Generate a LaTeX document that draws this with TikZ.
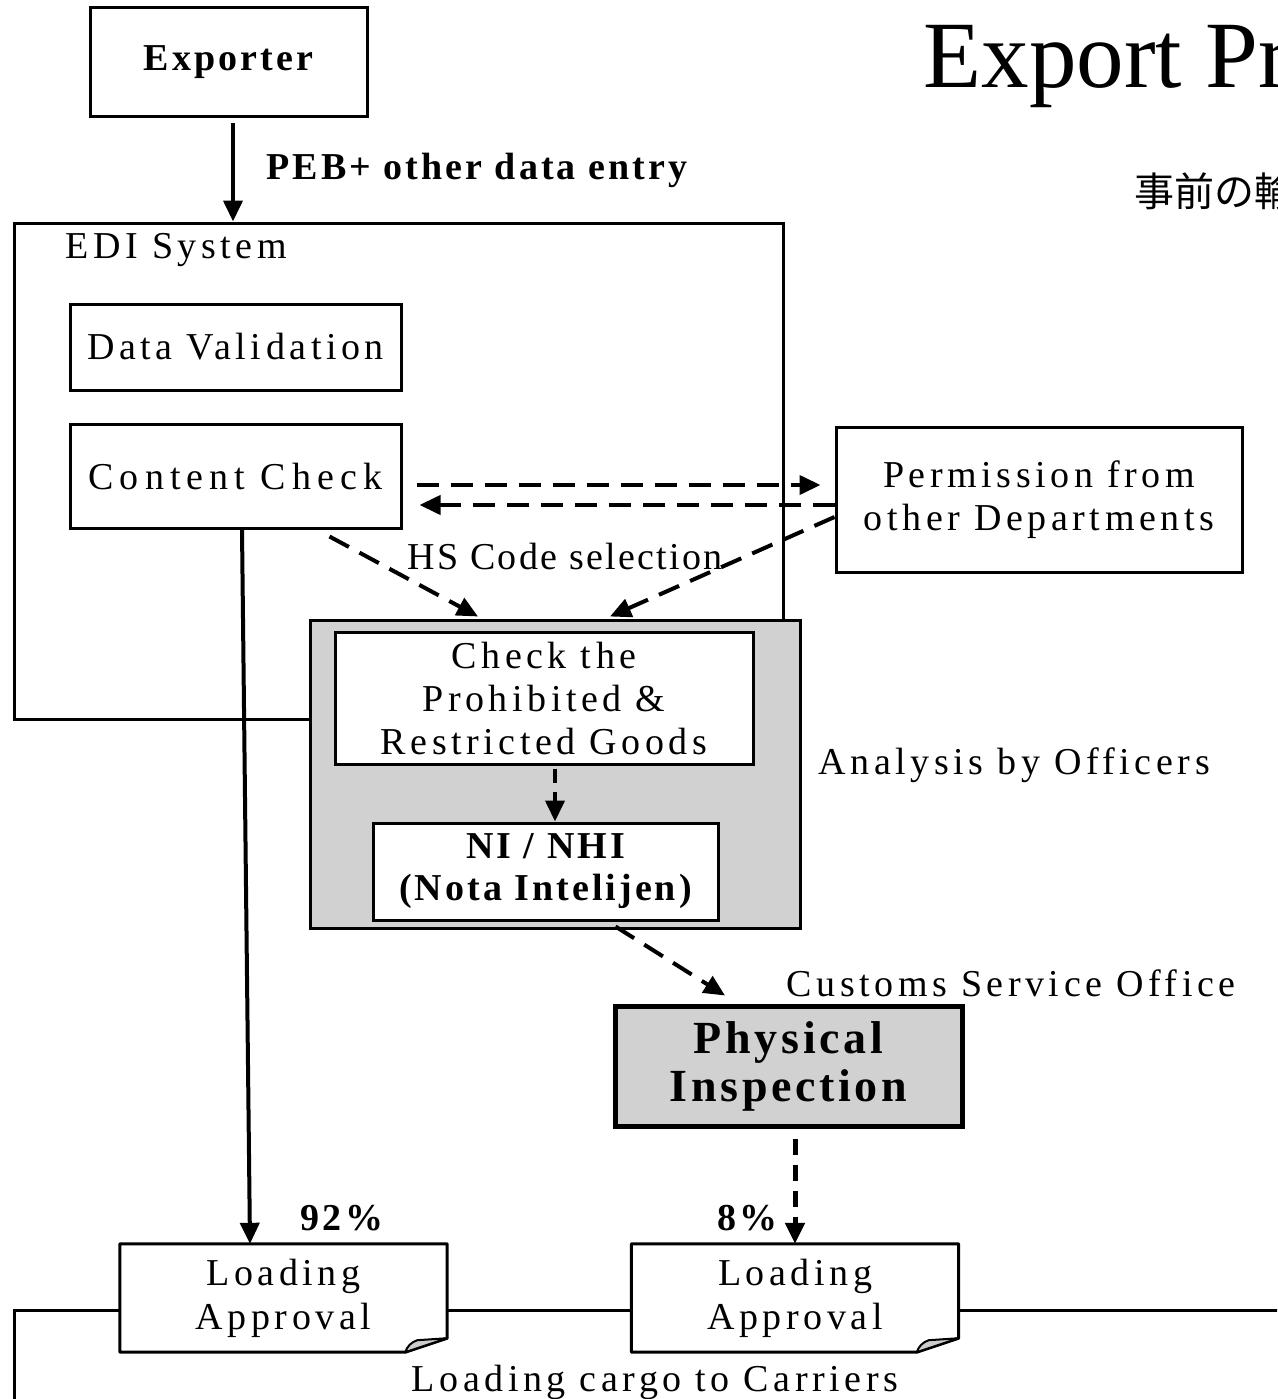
\documentclass[tikz,border=0pt]{standalone}
\usepackage{fontspec}
\setmainfont{Liberation Serif}
\newfontfamily\wide[LetterSpace=12]{Liberation Serif}
\newfontfamily\widecc[LetterSpace=16]{Liberation Serif}
\newfontfamily\widebf[LetterSpace=8]{Liberation Serif}
\newfontfamily\widehs[LetterSpace=6]{Liberation Serif}
\newfontfamily\jpfont{Noto Sans CJK JP}
\usetikzlibrary{arrows.meta}

\begin{document}
\begin{tikzpicture}[
    x=1pt, y=-1pt,
    every node/.append style={font=\wide\fontsize{38}{43}\selectfont},
    box/.style={rectangle, draw=black, line width=3pt, fill=white, inner sep=0pt, align=center},
    shaded/.style={box, fill=black!18},
    note/.style={rectangle, fill=white, inner sep=0pt, align=center, minimum width=327pt, minimum height=108pt,
                 font=\wide\fontsize{38}{44}\selectfont},
    boldtext/.style={font=\widebf\bfseries\fontsize{38}{42}\selectfont},
    flow/.style={line width=4pt, -{Triangle[length=21pt,width=19pt]}},
    dashflow/.style={flow, dash pattern=on 22pt off 12pt}
]
    \clip (0,0) rectangle (1277,1399);

    % Titel
    \node[anchor=base west, font=\rmfamily\fontsize{95}{100}\selectfont] (title) at (920,88) {Export Process};
    \node[anchor=west, font=\jpfont\fontsize{40}{44}\selectfont] (subtitle) at (1131,191) {事前の輸出};

    % Exporter
    \node[box, boldtext, minimum width=277pt, minimum height=109pt] (exp) at (228.5,62.5) {\raisebox{-5pt}{Exporter}};

    % EDI System
    \node[box, minimum width=769pt, minimum height=496pt] (edi) at (398.5,471) {};
    \node[anchor=west] (editxt) at (62,250) {EDI System};
    \node[box, minimum width=331pt, minimum height=86pt] (dv) at (235.5,347) {Data Validation};
    \node[box, minimum width=331pt, minimum height=104pt, font=\widecc\fontsize{38}{43}\selectfont] (cc) at (235.5,476) {Content Check};
    \node[box, minimum width=406pt, minimum height=145pt] (perm) at (1039,499.5) {Permission from\\other Departments};

    % Analysis by Officers
    \node[shaded, minimum width=490pt, minimum height=308pt] (ana) at (555,774) {};
    \node[box, minimum width=418pt, minimum height=132pt] (chk) at (544,698) {Check the\\Prohibited \&\\Restricted Goods};
    \node[box, boldtext, minimum width=345pt, minimum height=97pt] (ni) at (545.5,871.5) {NI / NHI\\(Nota Intelijen)};
    \node[anchor=west] (anatxt) at (815,765) {Analysis by Officers};

    % Customs Service Office
    \node[anchor=west] (csotxt) at (783,983) {Customs Service Office};
    \node[shaded, line width=5pt, minimum width=347pt, minimum height=120pt,
          font=\widebf\bfseries\fontsize{46}{48}\selectfont] (phys) at (788.5,1066) {Physical\\Inspection};

    % Loading cargo to Carriers
    \draw[line width=3pt] (14,1430) -- (14,1310) -- (1300,1310);
    \node (cargo) at (655,1382) {Loading cargo to Carriers};
    \node[note] (la1) at (283.5,1298) {Loading\\Approval};
    \node[note] (la2) at (795,1298) {Loading\\Approval};
    \foreach \n in {la1,la2} {
        \draw[line width=3pt, line join=round] (\n.north west) -- (\n.north east) -- ([yshift=14pt]\n.south east)
            -- ([xshift=-42pt]\n.south east) -- (\n.south west) -- cycle;
        \filldraw[line width=2pt, fill=black!20, line join=round] ([xshift=-42pt]\n.south east)
            to[bend left=25] ([xshift=-30pt,yshift=12pt]\n.south east) -- ([yshift=14pt]\n.south east) -- cycle;
    }

    % Pfeile
    \draw[flow] ([xshift=4.5pt,yshift=-5pt]exp.south) -- ([xshift=4.5pt]exp.south |- edi.north);
    \node[anchor=west, boldtext] (peb) at (263,170) {PEB+ other data entry};
    \draw[dashflow] ([xshift=14pt,yshift=-9pt]cc.east) -- ([xshift=-14pt,yshift=14.5pt]perm.west);
    \draw[dashflow] ([yshift=-5.5pt]perm.west) -- ([xshift=17pt,yshift=-29pt]cc.east);
    \draw[dashflow] ([xshift=94pt,yshift=-7pt]cc.south) -- ([xshift=-66pt,yshift=14pt]chk.north);
    \draw[dashflow] ([yshift=-17.5pt]perm.west) -- ([xshift=66pt,yshift=14pt]chk.north);
    \node[font=\widehs\fontsize{38}{43}\selectfont] (hs) at (565,556) {HS Code selection};
    \draw[dashflow, dash pattern=on 14pt off 9pt] ([xshift=11pt,yshift=-3pt]chk.south) -- ([xshift=9.5pt]ni.north);
    \draw[dashflow] ([xshift=70pt,yshift=-5pt]ni.south) -- ([xshift=-63.5pt,yshift=8pt]phys.north);
    \draw[dashflow, line width=5pt, dash pattern=on 16pt off 10pt] ([xshift=6.5pt,yshift=-10pt]phys.south) -- (la2.north);
    \draw[flow] ([xshift=6.5pt]cc.south) -- ([xshift=-33.5pt]la1.north);
    \node[boldtext] (p92) at (342,1218) {92\%};
    \node[boldtext] (p8) at (748,1218) {8\%};

\end{tikzpicture}
\end{document}
